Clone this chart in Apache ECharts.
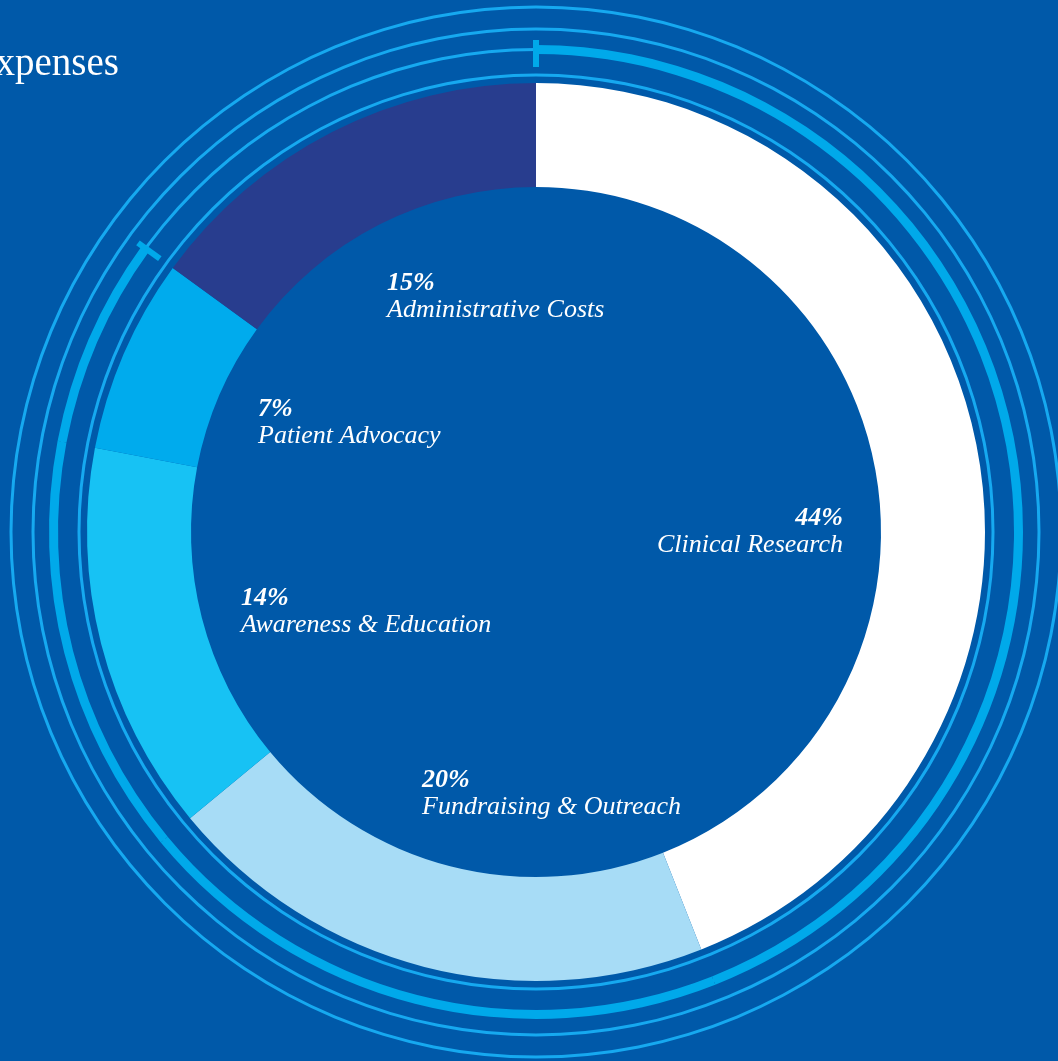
<!DOCTYPE html>
<html>
<head>
<meta charset="utf-8">
<script src="https://cdn.jsdelivr.net/npm/echarts@6/dist/echarts.min.js"></script>
<style>
  html, body { margin: 0; padding: 0; background: #0059a9; }
  #chart { width: 1058px; height: 1061px; }
</style>
</head>
<body>
<div id="chart"></div>
<script>
// expense breakdown, clockwise from 12 o'clock
const categories = ['Clinical Research', 'Fundraising & Outreach', 'Awareness & Education', 'Patient Advocacy', 'Administrative Costs'];
const shares = [44, 20, 14, 7, 15];
const sliceColors = ['#ffffff', '#a7dcf6', '#17c2f4', '#00abed', '#283d8e'];

// where each label block sits inside the hole: [x, top, align]
const labelAnchors = [
  [843, 505, 'right'],
  [422, 767, 'left'],
  [241, 585, 'left'],
  [258, 396, 'left'],
  [387, 270, 'left'],
];

const BG = '#0059a9';
const RING = '#16a9f0';
const ARC = '#00a9ea';
const CX = 536, CY = 532;
const FONT = '"Liberation Serif", "DejaVu Serif", serif';

const chart = echarts.init(document.getElementById('chart'));

const ring = (r, w) => ({
  type: 'pie',
  center: [CX, CY],
  radius: [r - w / 2, r + w / 2],
  silent: true,
  label: { show: false },
  labelLine: { show: false },
  emphasis: { disabled: true },
  itemStyle: { color: RING },
  data: [{ value: 1, name: 'ring' }],
  z: 1,
});

// thick arc runs over everything except administrative costs
const arcData = shares.map((v, i) => ({
  value: v,
  name: categories[i],
  itemStyle: { color: i === shares.length - 1 ? 'transparent' : ARC },
}));

// tick marks at both ends of the thick arc
const total = shares.reduce((a, b) => a + b, 0);
const arcShare = shares.slice(0, shares.length - 1).reduce((a, b) => a + b, 0);
const tickLines = [0, arcShare].map(s => {
  const a = s / total * Math.PI * 2;
  const sin = Math.sin(a), cos = Math.cos(a);
  return {
    type: 'line',
    silent: true,
    z: 10,
    shape: {
      x1: CX + 465 * sin, y1: CY - 465 * cos,
      x2: CX + 492 * sin, y2: CY - 492 * cos,
    },
    style: { stroke: ARC, lineWidth: 6 },
  };
});

chart.setOption({
  backgroundColor: BG,
  animation: false,
  graphic: [
    {
      type: 'text',
      right: 1058 - 119,
      top: 45,
      style: {
        text: 'Expenses',
        fill: '#ffffff',
        font: '39px ' + FONT,
        textAlign: 'right',
      },
    },
    ...tickLines,
  ],
  series: [
    ring(457, 3),
    ring(482.5, 3),
    ring(503, 3),
    ring(525, 3),
    {
      type: 'pie',
      center: [CX, CY],
      radius: [478, 487],
      silent: true,
      label: { show: false },
      labelLine: { show: false },
      emphasis: { disabled: true },
      data: arcData,
      z: 2,
    },
    {
      type: 'pie',
      center: [CX, CY],
      radius: [345, 449],
      startAngle: 90,
      clockwise: true,
      avoidLabelOverlap: false,
      silent: true,
      emphasis: { disabled: true },
      labelLine: { show: false },
      label: {
        show: true,
        formatter: p => '{p|' + p.value + '%}\n{n|' + p.name + '}',
        rich: {
          p: { fontFamily: FONT, fontStyle: 'italic', fontWeight: 'bold', fontSize: 26, lineHeight: 27, color: '#fff' },
          n: { fontFamily: FONT, fontStyle: 'italic', fontSize: 26, lineHeight: 27, color: '#fff' },
        },
      },
      labelLayout: p => {
        const a = labelAnchors[p.dataIndex];
        return { x: a[0], y: a[1], align: a[2], verticalAlign: 'top' };
      },
      data: shares.map((v, i) => ({
        value: v,
        name: categories[i],
        itemStyle: { color: sliceColors[i] },
      })),
      z: 3,
    },
  ],
});
</script>
</body>
</html>
